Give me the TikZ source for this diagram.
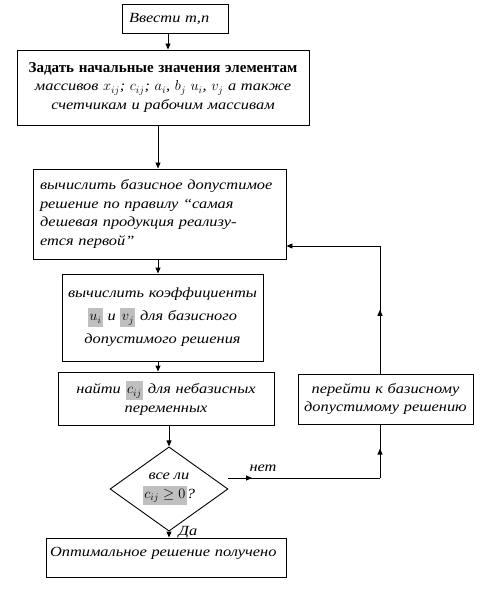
\documentclass[tikz,border=0pt]{standalone}
\usepackage{fontspec}
\setmainfont[FakeStretch=1.17]{Liberation Serif}
\newfontfamily\headfont{Liberation Serif}
\usetikzlibrary{arrows.meta,shapes.geometric,decorations.markings}
\tikzset{%
  % Specifications for style of arrows:
   flow/.style={
           -{Triangle[length=6pt,width=5pt]},
           line width=0.9pt},
   midflow/.style={
           line width=0.9pt,
           postaction={decorate},
           decoration={markings,
             mark=at position #1 with {\arrow{Triangle[length=6pt,width=5pt]}}}},
  % Specifications for style of nodes:
   base/.style = {rectangle, draw=black, line width=0.9pt,
                  inner sep=3pt, text centered,
                  font=\itshape\fontsize{14}{18.7}\selectfont},
   stepbox/.style = {base, align=center},
   leftbox/.style = {base, align=left, inner xsep=7pt},
   decision/.style = {diamond, draw=black, line width=0.9pt,
                  inner sep=0pt, align=center,
                  minimum width=118pt, minimum height=76pt,
                  font=\itshape\fontsize{14}{19}\selectfont},
   tag/.style = {font=\itshape\fontsize{14}{15}\selectfont},
}
\newcommand{\hl}[1]{{\setlength{\fboxsep}{1.5pt}%
  \colorbox{gray!50}{\vrule height 11pt depth 5pt width 0pt#1}}}

\begin{document}
\begin{tikzpicture}[x=1pt, y=-1pt]
  \useasboundingbox (0,0) rectangle (486,601);

  % Specification of nodes (position, etc.)
  \node (inp_block)   [leftbox, minimum width=106pt, minimum height=29pt,
                       text width=92pt] at (175,18.5) {Ввести m,n};
  \node (init_block)  [stepbox, minimum width=292pt, minimum height=75pt,
                       text width=286pt] at (163,87.5)
        {\textbf{\upshape\headfont\fontsize{15}{18.7}\selectfont Задать начальные значения элементам}\\
         массивов $x_{ij}$; $c_{ij}$; $a_i$, $b_j$ $u_i$, $v_j$ а также\\
         счетчикам и рабочим массивам};
  \node (calc_block)  [leftbox, minimum width=253pt, minimum height=90pt,
                       text width=239pt] at (159.5,214)
        {вычислить базисное допустимое\\
         решение по правилу “самая\\
         дешевая продукция реализу-\\
         ется первой”};
  \node (coef_block)  [stepbox, minimum width=201pt, minimum height=87pt,
                       text width=195pt, font=\itshape\fontsize{14}{23}\selectfont]
        at (162.5,317.5)
        {вычислить коэффициенты\\
         \hl{$u_i$} и \hl{$v_j$} для базисного\\
         допустимого решения};
  \node (find_block)  [stepbox, minimum width=216pt, minimum height=53pt,
                       text width=210pt] at (166,398.5)
        {найти \hl{$c_{ij}$} для небазисных\\
         переменных};
  \node (jump_block)  [stepbox, minimum width=175pt, minimum height=50pt,
                       text width=169pt] at (385.5,399)
        {перейти к базисному\\
         допустимому решению};
  \node (test_block)  [decision] at (169,489)
        {все ли\\ \hl{$c_{ij}\geq 0$}?};
  \node (done_block)  [leftbox, inner xsep=4pt, minimum width=240pt,
                       minimum height=39pt, text width=232pt,
                       text depth=12pt] at (166,557.5)
        {Оптимальное решение получено};

  % Labels of the branches
  \node (no_tag)  [tag] at (263,468) {нет};
  \node (yes_tag) [tag] at (188,532) {Да};

  % Turning points of the connectors
  \coordinate (spine_a) at (168,0);
  \coordinate (spine_b) at (158,0);
  \coordinate (spine_c) at (169,0);
  \coordinate (turn_low)  at (380,478);
  \coordinate (turn_high) at (380,246);
  \coordinate (no_start)  at (228,478);

  % Connectors
  \draw[flow] (inp_block.south -| spine_a) -- (init_block.north -| spine_a);
  \draw[flow] (init_block.south -| spine_b) -- (calc_block.north -| spine_b);
  \draw[flow] (calc_block.south -| spine_b) -- (coef_block.north -| spine_b);
  \draw[flow] (coef_block.south -| spine_b) -- (find_block.north -| spine_b);
  \draw[flow] (find_block.south -| spine_c) -- (test_block.north);
  \draw[flow] (test_block.south) -- (done_block.north -| spine_c);

  \draw[midflow=24pt] (no_start) -- (turn_low);
  \draw[midflow=0.55] (turn_low) -- (turn_low |- jump_block.south);
  \draw[midflow=0.5] (turn_high |- jump_block.north) -- (turn_high);
  \draw[flow] (turn_high) -- (turn_high -| calc_block.east);

\end{tikzpicture}
\end{document}
